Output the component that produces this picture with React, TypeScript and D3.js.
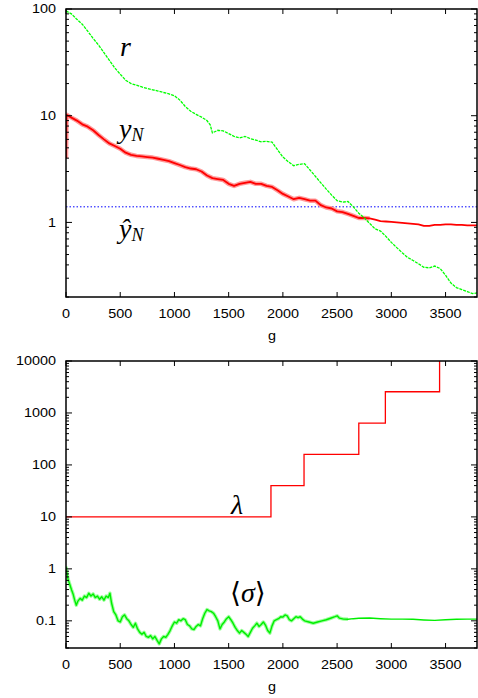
import * as d3 from "d3";

// generation axis
const genTicks = [0, 500, 1000, 1500, 2000, 2500, 3000, 3500];

// top panel: r (green), y_N (red), target y^_N (blue)
const rGen = [0, 50, 100, 150, 200, 250, 300, 350, 400, 450, 500, 550, 600, 650, 700, 750, 800, 850, 900, 950, 1000, 1050, 1100, 1150, 1200, 1250, 1300, 1330, 1350, 1400, 1450, 1500, 1550, 1600, 1650, 1700, 1750, 1800, 1850, 1900, 1950, 2000, 2050, 2100, 2150, 2200, 2250, 2300, 2350, 2400, 2450, 2500, 2550, 2600, 2650, 2700, 2750, 2800, 2850, 2900, 2950, 3000, 3050, 3100, 3150, 3200, 3250, 3300, 3350, 3400, 3450, 3500, 3550, 3600, 3650, 3700, 3750, 3800];
const rVal = [96, 90, 80, 72, 62, 53, 46, 39, 33, 28, 24.5, 21.5, 20, 19.3, 18.6, 18, 17.5, 17, 16.5, 16, 15.4, 14, 12.2, 11, 10.3, 9.7, 9, 8.2, 6.9, 7.3, 7.2, 6.8, 6.4, 6.2, 6.4, 6.1, 5.9, 5.7, 5.75, 5.65, 4.8, 4.1, 3.7, 3.4, 3.5, 3.55, 3.1, 2.7, 2.35, 2.05, 1.8, 1.6, 1.55, 1.57, 1.4, 1.22, 1.1, 0.98, 0.87, 0.83, 0.74, 0.65, 0.58, 0.52, 0.47, 0.44, 0.41, 0.38, 0.375, 0.39, 0.37, 0.32, 0.27, 0.245, 0.235, 0.225, 0.215, 0.22];

const yGen = [0, 5, 50, 100, 150, 200, 250, 300, 350, 400, 450, 500, 550, 600, 650, 700, 750, 800, 850, 900, 950, 1000, 1050, 1100, 1150, 1200, 1250, 1300, 1350, 1400, 1450, 1500, 1550, 1600, 1650, 1700, 1750, 1800, 1850, 1900, 1950, 2000, 2050, 2100, 2150, 2200, 2250, 2300, 2350, 2400, 2450, 2500, 2550, 2600, 2650, 2700, 2750, 2800, 2850, 2900, 2950, 3000, 3050, 3100, 3150, 3200, 3250, 3300, 3350, 3400, 3450, 3500, 3550, 3600, 3650, 3700, 3750, 3800];
const yVal = [4.0, 10.2, 9.6, 9.0, 8.3, 7.9, 7.3, 6.6, 6.0, 5.5, 5.2, 4.9, 4.5, 4.3, 4.2, 4.15, 4.1, 4.05, 3.95, 3.85, 3.75, 3.6, 3.45, 3.3, 3.2, 3.15, 3.0, 2.75, 2.6, 2.55, 2.5, 2.3, 2.2, 2.3, 2.35, 2.4, 2.3, 2.3, 2.2, 2.15, 2.0, 1.85, 1.75, 1.65, 1.7, 1.65, 1.6, 1.6, 1.45, 1.38, 1.35, 1.27, 1.25, 1.2, 1.15, 1.1, 1.1, 1.09, 1.06, 1.03, 1.02, 1.01, 1.0, 0.99, 0.98, 0.97, 0.96, 0.93, 0.93, 0.95, 0.95, 0.96, 0.96, 0.95, 0.95, 0.94, 0.94, 0.94];

const yHat = 1.4;

// bottom panel: lambda (red steps), <sigma> (green)
const lambdaGen = [0, 1890, 2195, 2700, 2945, 3445, 3800];
const lambdaVal = [10, 40, 160, 640, 2560, 10240, 10240];

const sGen = [0, 10, 20, 35, 50, 65, 80, 95, 110, 130, 150, 170, 190, 210, 230, 250, 270, 290, 310, 330, 350, 370, 390, 405, 420, 440, 460, 480, 500, 520, 540, 560, 580, 600, 620, 640, 660, 680, 700, 720, 740, 760, 780, 800, 820, 840, 860, 880, 900, 920, 940, 960, 980, 1000, 1020, 1040, 1060, 1080, 1100, 1120, 1140, 1160, 1180, 1200, 1220, 1240, 1260, 1280, 1300, 1320, 1340, 1360, 1380, 1400, 1420, 1440, 1460, 1480, 1500, 1520, 1540, 1560, 1580, 1600, 1620, 1640, 1660, 1680, 1700, 1720, 1740, 1760, 1780, 1800, 1820, 1840, 1860, 1880, 1900, 1920, 1940, 1960, 1980, 2000, 2020, 2040, 2060, 2080, 2100, 2120, 2140, 2160, 2180, 2200, 2240, 2280, 2320, 2360, 2400, 2440, 2480, 2500, 2520, 2560, 2600, 2650, 2700, 2800, 2900, 3000, 3100, 3200, 3300, 3400, 3500, 3600, 3700, 3800];
const sVal = [1.1, 0.8, 0.62, 0.5, 0.4, 0.33, 0.25, 0.2, 0.24, 0.27, 0.25, 0.3, 0.28, 0.34, 0.3, 0.33, 0.28, 0.3, 0.26, 0.29, 0.25, 0.3, 0.28, 0.34, 0.22, 0.15, 0.13, 0.1, 0.095, 0.12, 0.13, 0.11, 0.1, 0.085, 0.075, 0.09, 0.07, 0.06, 0.055, 0.06, 0.05, 0.048, 0.052, 0.045, 0.05, 0.042, 0.036, 0.045, 0.05, 0.048, 0.055, 0.065, 0.08, 0.095, 0.09, 0.105, 0.1, 0.11, 0.105, 0.085, 0.08, 0.07, 0.068, 0.078, 0.085, 0.08, 0.11, 0.14, 0.165, 0.155, 0.15, 0.14, 0.12, 0.1, 0.07, 0.085, 0.095, 0.11, 0.12, 0.105, 0.09, 0.075, 0.065, 0.058, 0.065, 0.06, 0.055, 0.05, 0.06, 0.072, 0.08, 0.09, 0.078, 0.085, 0.095, 0.082, 0.065, 0.058, 0.08, 0.1, 0.105, 0.11, 0.12, 0.118, 0.13, 0.125, 0.105, 0.1, 0.11, 0.12, 0.115, 0.12, 0.108, 0.1, 0.095, 0.09, 0.095, 0.1, 0.105, 0.112, 0.12, 0.125, 0.113, 0.108, 0.107, 0.11, 0.112, 0.113, 0.11, 0.108, 0.108, 0.107, 0.104, 0.102, 0.105, 0.107, 0.108, 0.108];

const W = 478;
const H = 698;
const left = 66;
const right = 477;
const font = "'Liberation Sans', Arial, sans-serif";
const mathFont = "'Liberation Serif', 'DejaVu Serif', serif";

const x = d3.scaleLinear().domain([0, 3790]).range([left, right]);

// label squeezed like the original (wider than tall)
function Label({ x, y, anchor, children }: any) {
  return (
    <text
      transform={`translate(${x},${y}) scale(1.2,1)`}
      textAnchor={anchor}
      fontFamily={font}
      fontSize={12}
      fill="#000"
    >
      {children}
    </text>
  );
}

function Panel({ top, bottom, domain, id, children }: any) {
  const y = d3.scaleLog().domain(domain).range([bottom, top]);
  const ticks = y.ticks();
  const isMajor = (t: number) => Math.abs(Math.log10(t) - Math.round(Math.log10(t))) < 1e-9;
  return (
    <g>
      <defs>
        <clipPath id={id}>
          <rect x={left} y={top} width={right - left} height={bottom - top} />
        </clipPath>
      </defs>
      <g clipPath={`url(#${id})`}>{children(y)}</g>
      {ticks.map((t, i) => {
        const len = isMajor(t) ? 6 : 3;
        const yy = y(t);
        return (
          <g key={i}>
            <line x1={left} x2={left + len} y1={yy} y2={yy} stroke="#000" strokeWidth={1} />
            <line x1={right} x2={right - len} y1={yy} y2={yy} stroke="#000" strokeWidth={1} />
            {isMajor(t) && (
              <Label x={56} y={yy + 4.3} anchor="end">
                {d3.format("~g")(t)}
              </Label>
            )}
          </g>
        );
      })}
      {genTicks.map((g) => (
        <g key={g}>
          <line x1={x(g)} x2={x(g)} y1={bottom} y2={bottom - 5} stroke="#000" strokeWidth={1} />
          <line x1={x(g)} x2={x(g)} y1={top} y2={top + 5} stroke="#000" strokeWidth={1} />
          <Label x={x(g)} y={bottom + 20.5} anchor="middle">
            {g}
          </Label>
        </g>
      ))}
      <rect x={left} y={top} width={right - left} height={bottom - top} fill="none" stroke="#000" strokeWidth={1.5} />
      <Label x={272} y={bottom + 43} anchor="middle">g</Label>
    </g>
  );
}

export default function App() {
  const pts = (gs: number[], vs: number[]) => gs.map((g, i) => [g, vs[i]] as [number, number]);

  return (
    <svg width={W} height={H} style={{ position: "absolute", left: 0, top: 0, background: "#fff" }}>
      <rect width={W} height={H} fill="#fff" />
      <Panel top={9} bottom={297} domain={[0.2, 100]} id="clipTop">
        {(y: any) => {
          const line = d3.line<[number, number]>().x((d) => x(d[0])).y((d) => y(d[1]));
          const yPts = pts(yGen, yVal);
          return (
            <g>
              <line x1={left} x2={right} y1={y(yHat)} y2={y(yHat)} stroke="#0000ff" strokeWidth={1} strokeDasharray="1.5,2" />
              {/* fuzzy halo for the noisy best-fitness curve, fading out as it settles */}
              <path d={line(yPts.filter((d) => d[0] <= 2800)) || ""} fill="none" stroke="#ff9a9a" strokeWidth={4.5} strokeLinejoin="round" />
              <path d={line(yPts) || ""} fill="none" stroke="#ff0000" strokeWidth={1.8} strokeLinejoin="round" />
              <path d={line(pts(rGen, rVal)) || ""} fill="none" stroke="#00ff00" strokeWidth={1.3} strokeDasharray="3,1" />
            </g>
          );
        }}
      </Panel>
      <Panel top={361} bottom={648} domain={[0.03, 10000]} id="clipBottom">
        {(y: any) => {
          const line = d3.line<[number, number]>().x((d) => x(d[0])).y((d) => y(d[1]));
          const step = d3.line<[number, number]>().x((d) => x(d[0])).y((d) => y(d[1])).curve(d3.curveStepAfter);
          const sPts = pts(sGen, sVal);
          return (
            <g>
              <path d={step(pts(lambdaGen, lambdaVal)) || ""} fill="none" stroke="#ff0000" strokeWidth={1.3} />
              <path d={line(sPts.filter((d) => d[0] <= 2600)) || ""} fill="none" stroke="#9dff9d" strokeWidth={3.5} strokeLinejoin="round" />
              <path d={line(sPts) || ""} fill="none" stroke="#00ee00" strokeWidth={1.4} strokeLinejoin="round" />
            </g>
          );
        }}
      </Panel>

      {/* curve names */}
      <g fontFamily={mathFont} fontStyle="italic" fill="#000">
        <text x={120} y={56} fontSize={28}>r</text>
        <text x={119} y={138} fontSize={28}>
          y<tspan fontSize={18} dy={3}>N</tspan>
        </text>
        <text x={119} y={238} fontSize={28}>
          ŷ<tspan fontSize={18} dy={3}>N</tspan>
        </text>
        <text x={231} y={514} fontSize={28}>λ</text>
        <text x={230} y={602} fontSize={28}>
          <tspan fontStyle="normal" fontFamily="'DejaVu Serif', serif" fontWeight={200}>⟨</tspan>σ<tspan fontStyle="normal" fontFamily="'DejaVu Serif', serif" fontWeight={200}>⟩</tspan>
        </text>
      </g>
    </svg>
  );
}
